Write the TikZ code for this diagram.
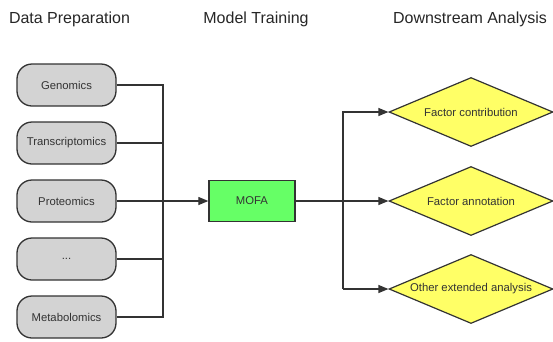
\documentclass[tikz,border=0pt]{standalone}
\usepackage{fontspec}
\setmainfont{Liberation Sans}
\usetikzlibrary{shapes.geometric,arrows.meta}
\definecolor{strk}{HTML}{333333}
\definecolor{pillgrey}{HTML}{D3D3D3}
\definecolor{mofagreen}{HTML}{66FF66}
\definecolor{diayellow}{HTML}{FFFF66}
\begin{document}
\begin{tikzpicture}[x=1pt,y=-1pt,
  title/.style={font=\fontsize{16}{19}\selectfont, text=black!85, inner sep=0},
  pill/.style={draw=strk, line width=1.3pt, fill=pillgrey, rounded corners=15pt,
    minimum width=99pt, minimum height=42pt, inner sep=0, text=strk,
    font=\fontsize{11.3}{13}\selectfont},
  mofabox/.style={draw=strk, line width=1.3pt, fill=mofagreen, minimum width=86pt,
    minimum height=41pt, inner sep=0, text=strk, font=\fontsize{11.3}{13}\selectfont},
  dia/.style={diamond, shape aspect=2.38, draw=strk, line width=1.2pt, fill=diayellow,
    minimum width=164pt, minimum height=69pt, inner sep=0, text=strk,
    font=\fontsize{11.3}{13}\selectfont},
  conn/.style={draw=strk, line width=1.2pt},
  arr/.style={conn, -{Triangle[length=10pt,width=8pt]}}
]
\useasboundingbox (0,0) rectangle (553,341);
\node[title] (t1) at (69.5,19) {Data Preparation};
\node[title] (t2) at (256,19) {Model Training};
\node[title] (t3) at (470,19) {Downstream Analysis};

\node[pill] (gen) at (66.5,85) {Genomics};
\node[pill] (tra) at (66.5,143) {Transcriptomics};
\node[pill] (pro) at (66.5,201) {Proteomics};
\node[pill] (dot) at (66.5,259) {...};
\node[pill] (met) at (66.5,317) {Metabolomics};

\node[mofabox] (mofa) at (252,201) {MOFA};

\node[dia] (fc) at (471,112) {Factor contribution};
\node[dia] (fa) at (471,201) {Factor annotation};
\node[dia] (oe) at (471,289) {Other extended analysis};

\coordinate (btop) at (163,85);
\coordinate (bbot) at (163,317);
\coordinate (rtop) at (343,112);
\coordinate (rbot) at (343,289);

\draw[conn] (gen.east) -- (btop) -- (bbot) -- (met.east);
\draw[conn] (tra.east) -- (tra.east -| btop);
\draw[conn] (dot.east) -- (dot.east -| btop);
\draw[arr] (pro.east) -- (mofa.west);

\draw[conn] (mofa.east) -- (mofa.east -| rtop);
\draw[arr] (rbot) -- (rtop) -- (fc.west);
\draw[arr] (mofa.east -| rtop) -- (fa.west);
\draw[arr] (rbot) -- (oe.west);
\end{tikzpicture}
\end{document}
